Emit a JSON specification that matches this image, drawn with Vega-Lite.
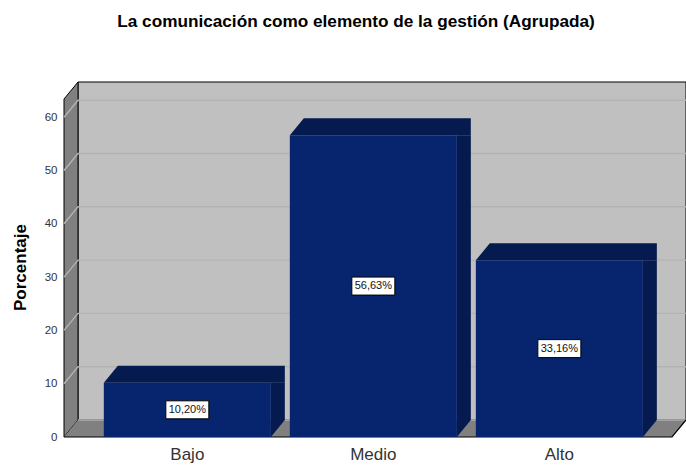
{
"$schema":"https://vega.github.io/schema/vega-lite/v6.json",
"autosize":{"type":"none"},
"width":622,"height":355,
"padding":{"left":64,"top":82,"right":0,"bottom":29},
"background":"white",
"view":{"stroke":null},
"config":{"font":"Liberation Sans","axis":{"grid":false,"domain":false,"ticks":false},
 "axisX":{"labelAngle":0,"labelFontSize":17,"labelColor":"#333333","labelFont":"Liberation Sans","labelPadding":9},
 "axisY":{"labelFontSize":11.5,"labelColor":"#333333","labelFont":"Liberation Sans","labelPadding":7,"titleFontSize":17,"titleFont":"Liberation Sans","titleFontWeight":"bold","titleColor":"#000000","titleX":-35,"titleY":185}},
"title":{"text":"La comunicación como elemento de la gestión (Agrupada)","font":"Liberation Sans","fontSize":17.2,"fontWeight":"bold","color":"#000000","anchor":"middle","dx":-19,"offset":50},
"datasets":{
"bars":[{"categoria":"Bajo","porcentaje":10.20,"etiqueta":"10,20%"},{"categoria":"Medio","porcentaje":56.63,"etiqueta":"56,63%"},{"categoria":"Alto","porcentaje":33.16,"etiqueta":"33,16%"}],
"ticks":[{"v":10},{"v":20},{"v":30},{"v":40},{"v":50},{"v":60}],
"one":[{"v":0}]
},
"layer":[
{"data":{"name":"one"},
 "mark":{"type":"rect","fill":"#c0c0c0","stroke":"#000000","strokeWidth":1,"xOffset":14,"y2Offset":-17},
 "encoding":{"x":{"value":0},"x2":{"value":"width"},"y":{"value":0},"y2":{"value":"height"}}},
{"data":{"name":"one"},
 "mark":{"type":"point","filled":true,"opacity":1,"size":4,"fill":"#808080","stroke":"#000000","strokeWidth":1,"shape":"M0,0 L0,-338 L14,-355 L14,-17 Z"},
 "encoding":{"x":{"value":0},"y":{"datum":0,"type":"quantitative","title":"Porcentaje","scale":{"domain":[0,66.6],"nice":false,"zero":true},"axis":{"values":[0,10,20,30,40,50,60]}}}},
{"data":{"name":"ticks"},
 "mark":{"type":"point","filled":false,"opacity":1,"size":4,"stroke":"#b3b3b3","strokeWidth":1.4,"fill":null,"shape":"M0,0 L14,-17 L622,-17"},
 "encoding":{"x":{"value":0},"y":{"field":"v","type":"quantitative","title":"Porcentaje"}}},
{"data":{"name":"one"},
 "mark":{"type":"point","filled":true,"opacity":1,"size":4,"fill":"#808080","stroke":null,"shape":"M0,0 L14,-17 L622,-17 L608,0 Z"},
 "encoding":{"x":{"value":0},"y":{"datum":0,"type":"quantitative","title":"Porcentaje"}}},
{"data":{"name":"one"},
 "mark":{"type":"point","filled":false,"opacity":1,"size":4,"stroke":"#adadad","strokeWidth":1.4,"fill":null,"shape":"M14,-17 L622,-17"},
 "encoding":{"x":{"value":0},"y":{"datum":0,"type":"quantitative","title":"Porcentaje"}}},
{"data":{"name":"one"},
 "mark":{"type":"point","filled":false,"opacity":1,"size":4,"stroke":"#000000","strokeWidth":1.2,"fill":null,"shape":"M0,0 L608,0 L622,-17"},
 "encoding":{"x":{"value":0},"y":{"datum":0,"type":"quantitative","title":"Porcentaje"}}},
{"data":{"name":"bars"},
 "mark":{"type":"bar","fill":"#051a4e","width":14,"xOffset":90.5,"y2Offset":-17},
 "encoding":{"x":{"field":"categoria","type":"nominal","title":null,"scale":{"type":"band","domain":["Bajo","Medio","Alto"],"paddingInner":0.102,"paddingOuter":0.223,"align":0.48}},"y":{"field":"porcentaje","type":"quantitative","title":"Porcentaje"},"y2":{"datum":0}}},
{"data":{"name":"bars"},
 "mark":{"type":"point","filled":true,"opacity":1,"size":4,"fill":"#051a4e","stroke":null,"shape":"M-83.5,0 L-69.5,-17 L97.5,-17 L97.5,0 L83.5,0 Z"},
 "encoding":{"x":{"field":"categoria","type":"nominal","title":null},"y":{"field":"porcentaje","type":"quantitative","title":"Porcentaje"}}},
{"data":{"name":"bars"},
 "mark":{"type":"point","filled":true,"opacity":1,"size":4,"fill":"#051a4e","stroke":null,"shape":"M83.5,0 L83.5,-17 L97.5,-17 Z"},
 "encoding":{"x":{"field":"categoria","type":"nominal","title":null},"y":{"datum":0,"type":"quantitative","title":"Porcentaje"}}},
{"data":{"name":"bars"},
 "mark":{"type":"bar","fill":"#07246f"},
 "encoding":{
  "x":{"field":"categoria","type":"nominal","title":null},
  "y":{"field":"porcentaje","type":"quantitative","title":"Porcentaje"}}},
{"data":{"name":"bars"},
 "transform":[{"calculate":"datum.porcentaje/2","as":"medio"}],
 "mark":{"type":"point","filled":true,"opacity":1,"size":4,"fill":"#ffffff","stroke":"#000000","strokeWidth":1,"shape":"M-21.5,-9 L21.5,-9 L21.5,9 L-21.5,9 Z"},
 "encoding":{"x":{"field":"categoria","type":"nominal","title":null},"y":{"field":"medio","type":"quantitative","title":"Porcentaje"}}},
{"data":{"name":"bars"},
 "transform":[{"calculate":"datum.porcentaje/2","as":"medio"}],
 "mark":{"type":"text","fontSize":11,"font":"Liberation Sans","fill":"#111111","align":"center","baseline":"middle"},
 "encoding":{"x":{"field":"categoria","type":"nominal","title":null},"y":{"field":"medio","type":"quantitative","title":"Porcentaje"},"text":{"field":"etiqueta"}}}
]
}
